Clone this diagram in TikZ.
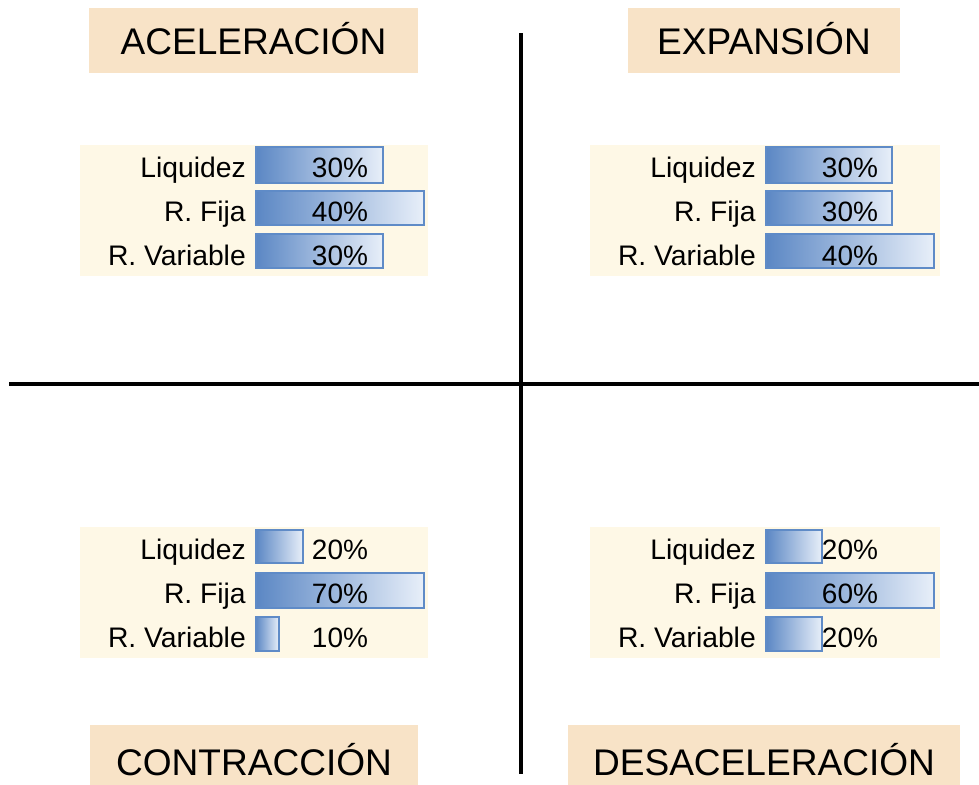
\documentclass[tikz,border=0pt]{standalone}
\usepackage{fontspec}
\setmainfont{Liberation Sans}
\definecolor{titlebg}{HTML}{F8E3C7}
\definecolor{panelbg}{HTML}{FEF8E6}
\definecolor{bardark}{HTML}{5B87C4}
\definecolor{barlight}{HTML}{E8EFF9}
\definecolor{barline}{HTML}{5F8BC7}
\tikzset{
  titlebox/.style={fill=titlebg, draw=none},
  titletext/.style={font=\fontsize{27.8}{32}\selectfont, anchor=base, inner sep=0pt},
  panelbox/.style={fill=panelbg, draw=none},
  lbl/.style={font=\fontsize{21.2}{24}\selectfont, anchor=base east, inner sep=0pt},
  pct/.style={font=\fontsize{21}{24}\selectfont, anchor=base, inner sep=0pt},
  databar/.style={left color=bardark, right color=barlight, draw=barline, line width=1.7pt},
  axisline/.style={line width=3.2pt, black},
}
% #1 x0, #2 top, #3 bottom, #4 baseline, #5 label, #6 bar length, #7 percent, #8 name
\newcommand{\qrow}[8]{%
  \shadedraw[databar] (#1+176,#2) rectangle (#1+176+#6,#3);
  \node[lbl] (#8l) at (#1+166,#4) {#5};
  \node[pct] (#8p) at (#1+260,#4) {#7};
}
\begin{document}
\begin{tikzpicture}[x=0.75pt,y=-0.75pt]
\useasboundingbox (0,0) rectangle (979,785);

% titles
\fill[titlebox] (89,8) rectangle (418,73);
\node[titletext] (acel) at (253.5,55) {ACELERACIÓN};
\fill[titlebox] (628,8) rectangle (900,73);
\node[titletext] (expa) at (764,55) {EXPANSIÓN};
\fill[titlebox] (90,725) rectangle (418,785);
\node[titletext] (cont) at (254,775) {CONTRACCIÓN};
\fill[titlebox] (568,725) rectangle (960,785);
\node[titletext] (desa) at (764,775) {DESACELERACIÓN};

% axes
\coordinate (vt) at (521,33);
\coordinate (vb) at (521,774);
\coordinate (hl) at (9,384);
\coordinate (hr) at (979,384);
\draw[axisline] (vt) -- (vb);
\draw[axisline] (hl) -- (hr);

% panels
\fill[panelbox] (80,145) rectangle (428,276);
\fill[panelbox] (590,145) rectangle (940,276);
\fill[panelbox] (80,527) rectangle (428,658);
\fill[panelbox] (590,527) rectangle (940,658);

% top-left
\qrow{80}{147}{183}{177}{Liquidez}{127}{30\%}{tla}
\qrow{80}{191}{225}{221}{R. Fija}{168}{40\%}{tlb}
\qrow{80}{234}{268}{265}{R. Variable}{127}{30\%}{tlc}
% top-right
\qrow{590}{147}{183}{177}{Liquidez}{126}{30\%}{tra}
\qrow{590}{191}{225}{221}{R. Fija}{126}{30\%}{trb}
\qrow{590}{234}{268}{265}{R. Variable}{168}{40\%}{trc}
% bottom-left
\qrow{80}{530}{563}{559}{Liquidez}{47}{20\%}{bla}
\qrow{80}{573}{608}{603}{R. Fija}{168}{70\%}{blb}
\qrow{80}{617}{651}{647}{R. Variable}{23}{10\%}{blc}
% bottom-right
\qrow{590}{530}{563}{559}{Liquidez}{56}{20\%}{bra}
\qrow{590}{573}{608}{603}{R. Fija}{168}{60\%}{brb}
\qrow{590}{617}{651}{647}{R. Variable}{56}{20\%}{brc}
\end{tikzpicture}
\end{document}
